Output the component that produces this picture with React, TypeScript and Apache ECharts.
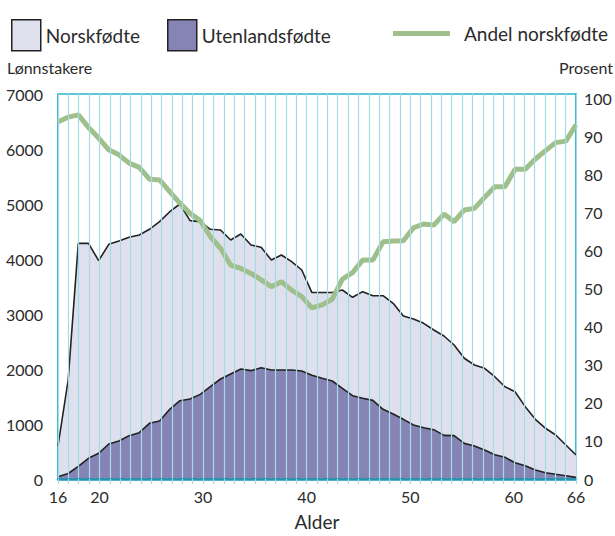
import React, { useEffect, useRef } from 'react';
import * as echarts from 'echarts';

// 52 evenly spaced observations across the age axis 16–66
const pointIndex: string[] = Array.from({ length: 52 }, (_, i) => String(i + 1));

const ageTickLabels = [16, 20, 30, 40, 50, 60, 66];

const utenlandsfodte = [
  40, 100, 230, 376, 467, 636, 690, 788, 842, 1012,
  1055, 1267, 1424, 1455, 1539, 1679, 1818, 1909, 2000, 1970,
  2024, 1982, 1982, 1982, 1964, 1885, 1830, 1782, 1648, 1515,
  1467, 1430, 1267, 1182, 1085, 982, 933, 897, 794, 788,
  648, 600, 527, 442, 394, 296, 242, 164, 115, 85,
  60, 30,
];

const norskfodte = [
  560, 1700, 4055, 3909, 3503, 3631, 3637, 3606, 3594, 3528,
  3624, 3593, 3576, 3242, 3141, 2861, 2709, 2436, 2454, 2284,
  2188, 2000, 2091, 1969, 1836, 1505, 1560, 1608, 1788, 1789,
  1939, 1903, 2066, 2013, 1879, 1927, 1898, 1812, 1806, 1648,
  1547, 1473, 1486, 1418, 1284, 1291, 1073, 921, 807, 715,
  558, 406,
];

const andelNorskfodte = [
  94.0, 95.2, 95.8, 92.5, 89.7, 86.6, 85.3, 83.1, 82.0, 78.9,
  78.7, 75.6, 72.6, 69.9, 68.0, 63.8, 60.7, 56.3, 55.4, 54.1,
  52.4, 50.6, 51.9, 49.7, 48.0, 45.0, 45.8, 47.3, 52.6, 54.3,
  57.6, 57.6, 62.4, 62.6, 62.7, 66.1, 67.1, 66.8, 69.7, 67.7,
  70.8, 71.2, 74.1, 76.9, 76.9, 81.5, 81.5, 84.2, 86.4, 88.5,
  88.9, 93.2,
];

const FONT = 'Lato, "Noto Sans", sans-serif';
const TEXT = '#2b2b2b';
const LIGHT = '#dfe0ee';
const DARK = '#8584b5';
const GREEN = '#a0c08b';
const CYAN = '#2bb6cc';
const GRIDLINE = '#a6dbe5';
const TEAL = '#1a97ae';

export default function App() {
  const ref = useRef<HTMLDivElement>(null);

  useEffect(() => {
    if (!ref.current) return;
    const chart = echarts.init(ref.current, undefined, { renderer: 'svg' });
    const option: any = {
      animation: false,
      backgroundColor: '#ffffff',
      textStyle: { fontFamily: FONT },
      grid: {
        left: 58,
        right: 39,
        top: 94,
        bottom: 57,
        show: true,
        borderColor: CYAN,
        borderWidth: 1.5,
        backgroundColor: 'transparent',
      },
      legend: [
        {
          left: 6,
          top: 14,
          itemWidth: 29,
          itemHeight: 31,
          icon: 'rect',
          textStyle: { fontFamily: FONT, fontSize: 19, color: TEXT },
          data: [{ name: 'Norskfødte', itemStyle: { color: LIGHT, borderColor: '#222', borderWidth: 1.5 } }],
          selectedMode: false,
        },
        {
          left: 162,
          top: 14,
          itemWidth: 29,
          itemHeight: 31,
          icon: 'rect',
          textStyle: { fontFamily: FONT, fontSize: 19, color: TEXT },
          data: [{ name: 'Utenlandsfødte', itemStyle: { color: DARK, borderColor: '#222', borderWidth: 1.5 } }],
          selectedMode: false,
        },
        {
          left: 388,
          top: 19,
          itemWidth: 57,
          itemHeight: 5,
          icon: 'rect',
          textStyle: { fontFamily: FONT, fontSize: 19, color: TEXT, padding: [0, 0, 0, 9] },
          data: [{ name: 'Andel norskfødte', itemStyle: { color: GREEN } }],
          selectedMode: false,
        },
      ],
      xAxis: [
        {
          type: 'value',
          min: 16,
          max: 66,
          interval: 1,
          name: 'Alder',
          nameLocation: 'middle',
          nameGap: 33,
          nameTextStyle: { fontFamily: FONT, fontSize: 19, color: TEXT },
          axisLine: { show: true, lineStyle: { color: TEAL, width: 2.5 } },
          axisTick: { show: true, length: 5, lineStyle: { color: GRIDLINE, width: 1.2 } },
          axisLabel: {
            interval: 0,
            margin: 9,
            fontFamily: FONT,
            fontSize: 16,
            color: TEXT,
            hideOverlap: false,
            formatter: (v: number) => (ageTickLabels.includes(v) ? String(v) : ''),
          },
          splitLine: { show: true, lineStyle: { color: GRIDLINE, width: 1.2 } },
          z: 5,
        },
        {
          type: 'category',
          data: pointIndex,
          boundaryGap: false,
          show: false,
        },
      ],
      yAxis: [
        {
          type: 'value',
          min: 0,
          max: 7000,
          interval: 1000,
          position: 'left',
          axisLine: { show: true, lineStyle: { color: CYAN, width: 1.5 } },
          axisTick: { show: false },
          splitLine: { show: false },
          axisLabel: {
            margin: 15,
            fontFamily: FONT,
            fontSize: 16,
            color: TEXT,
            formatter: (v: number) => String(v),
          },
        },
        {
          type: 'value',
          min: 0,
          max: 101.3,
          interval: 10,
          position: 'right',
          axisLine: { show: true, lineStyle: { color: CYAN, width: 1.5 } },
          axisTick: { show: false },
          splitLine: { show: false },
          axisLabel: {
            margin: 8,
            fontFamily: FONT,
            fontSize: 16,
            color: TEXT,
            showMaxLabel: false,
            formatter: (v: number) => (Math.abs(v % 10) < 1e-6 ? String(v) : ''),
          },
        },
      ],
      graphic: [
        {
          type: 'text',
          left: 7,
          top: 59,
          style: { text: 'Lønnstakere', fontFamily: FONT, fontSize: 16, fill: TEXT },
        },
        {
          type: 'text',
          right: 2,
          top: 59,
          style: { text: 'Prosent', fontFamily: FONT, fontSize: 16, fill: TEXT },
        },
      ],
      series: [
        {
          name: 'Utenlandsfødte',
          type: 'line',
          xAxisIndex: 1,
          yAxisIndex: 0,
          stack: 'lonnstakere',
          data: utenlandsfodte,
          symbol: 'none',
          lineStyle: { color: '#222', width: 1.6 },
          areaStyle: { color: DARK, opacity: 1 },
          itemStyle: { color: DARK },
          z: 3,
        },
        {
          name: 'Norskfødte',
          type: 'line',
          xAxisIndex: 1,
          yAxisIndex: 0,
          stack: 'lonnstakere',
          data: norskfodte,
          symbol: 'none',
          lineStyle: { color: '#222', width: 1.6 },
          areaStyle: { color: LIGHT, opacity: 1 },
          itemStyle: { color: LIGHT },
          z: 2,
        },
        {
          name: 'Andel norskfødte',
          type: 'line',
          xAxisIndex: 1,
          yAxisIndex: 1,
          data: andelNorskfodte,
          symbol: 'none',
          lineStyle: { color: GREEN, width: 5 },
          itemStyle: { color: GREEN },
          z: 4,
        },
      ],
    };
    chart.setOption(option);
    return () => chart.dispose();
  }, []);

  return (
    <div
      ref={ref}
      style={{ position: 'fixed', left: 0, top: 0, width: 615, height: 536, background: '#fff' }}
    />
  );
}
